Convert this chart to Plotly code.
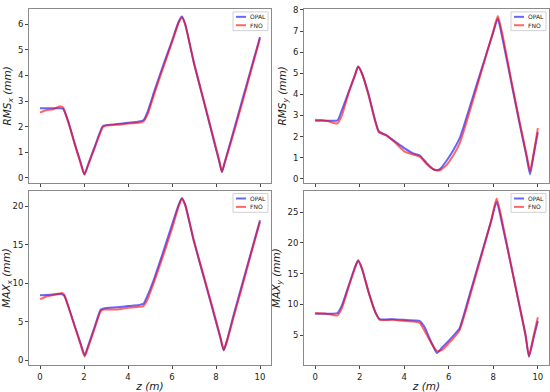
import plotly.graph_objects as go

# ---------------- data ----------------
z_rms_x = [0, 0.3, 0.6, 0.9, 1.05, 1.3, 1.6, 1.85, 2.02, 2.2, 2.5, 2.85, 3.0, 3.5, 4.0, 4.5, 4.7, 4.9, 5.2, 5.6,
           6.0, 6.3, 6.45, 6.6, 7.0, 7.5, 8.0, 8.15, 8.27, 8.4, 8.7, 9.2, 9.6, 10.0]
rms_x_opal = [2.72, 2.72, 2.72, 2.72, 2.7, 2.15, 1.28, 0.6, 0.13, 0.55, 1.25, 2.02, 2.06, 2.1, 2.15, 2.2, 2.25, 2.6, 3.4, 4.4,
              5.35, 6.1, 6.3, 6.0, 4.46, 2.8, 1.12, 0.62, 0.22, 0.62, 1.53, 3.06, 4.28, 5.5]
rms_x_fno = [2.55, 2.65, 2.68, 2.8, 2.75, 2.15, 1.25, 0.55, 0.13, 0.52, 1.2, 1.97, 2.04, 2.07, 2.12, 2.15, 2.2, 2.5, 3.3, 4.3,
             5.3, 6.05, 6.28, 6.0, 4.5, 2.85, 1.18, 0.68, 0.25, 0.6, 1.45, 2.95, 4.2, 5.45]

z_rms_y = [0, 0.3, 0.6, 1.0, 1.2, 1.5, 1.8, 1.93, 2.1, 2.4, 2.7, 2.86, 3.2, 3.6, 4.0, 4.4, 4.7, 5.0, 5.3, 5.45,
           5.6, 5.9, 6.2, 6.5, 7.0, 7.5, 8.0, 8.2, 8.4, 8.8, 9.2, 9.5, 9.65, 9.8, 10.0]
rms_y_opal = [2.75, 2.75, 2.75, 2.76, 3.25, 4.1, 4.95, 5.32, 5.0, 4.0, 2.75, 2.25, 2.05, 1.75, 1.45, 1.2, 1.1, 0.75, 0.45, 0.4,
              0.45, 0.85, 1.35, 1.95, 3.6, 5.3, 6.95, 7.6, 6.7, 4.6, 2.5, 1.0, 0.2, 1.05, 2.2]
rms_y_fno = [2.8, 2.78, 2.72, 2.62, 3.0, 4.05, 4.95, 5.32, 5.0, 3.95, 2.7, 2.2, 2.05, 1.7, 1.3, 1.15, 1.05, 0.7, 0.45, 0.4,
             0.4, 0.65, 1.1, 1.7, 3.4, 5.2, 7.0, 7.72, 6.9, 4.7, 2.6, 1.1, 0.35, 1.15, 2.4]

z_max_x = [0, 0.3, 0.6, 1.0, 1.1, 1.3, 1.6, 1.85, 2.03, 2.2, 2.5, 2.76, 2.9, 3.5, 4.0, 4.5, 4.7, 4.9, 5.2, 5.6,
           6.0, 6.3, 6.45, 6.6, 7.0, 7.5, 8.0, 8.2, 8.35, 8.5, 8.8, 9.2, 9.6, 10.0]
max_x_opal = [8.45, 8.5, 8.55, 8.6, 8.4, 6.9, 4.3, 2.2, 0.65, 2.0, 4.5, 6.6, 6.75, 6.9, 7.05, 7.2, 7.35, 8.5, 10.7, 14.1,
              17.6, 20.2, 21.1, 20.2, 15.4, 10.2, 5.0, 2.9, 1.3, 2.6, 5.9, 10.0, 14.1, 18.2]
max_x_fno = [7.95, 8.3, 8.5, 8.75, 8.55, 6.9, 4.2, 2.0, 0.5, 1.8, 4.3, 6.4, 6.6, 6.6, 6.85, 6.95, 7.05, 8.0, 10.3, 13.6,
             17.1, 20.0, 21.0, 20.2, 15.5, 10.4, 5.2, 3.0, 1.35, 2.5, 5.6, 9.7, 13.9, 18.0]

z_max_y = [0, 0.5, 1.0, 1.2, 1.5, 1.8, 1.93, 2.1, 2.4, 2.7, 2.9, 3.5, 4.0, 4.5, 4.7, 4.9, 5.2, 5.47, 5.7, 6.0,
           6.3, 6.47, 6.7, 7.0, 7.5, 7.9, 8.15, 8.4, 8.8, 9.2, 9.45, 9.6, 9.8, 10.0]
max_y_opal = [8.5, 8.5, 8.6, 9.8, 13.0, 16.2, 17.1, 15.8, 12.0, 8.8, 7.6, 7.6, 7.5, 7.4, 7.3, 6.4, 4.0, 2.1, 3.0, 4.1,
              5.3, 6.0, 8.6, 12.4, 18.6, 23.5, 26.7, 23.0, 16.3, 9.3, 4.9, 1.5, 4.4, 7.3]
max_y_fno = [8.6, 8.5, 8.2, 9.4, 12.8, 16.0, 17.2, 15.9, 12.0, 8.7, 7.5, 7.5, 7.3, 7.2, 7.0, 5.8, 3.8, 2.4, 2.6, 3.7,
             4.9, 5.7, 8.2, 12.0, 18.3, 23.6, 27.2, 23.5, 16.3, 9.4, 5.0, 1.6, 4.8, 7.9]

series_names = ["OPAL", "FNO"]
x_ticks = [0, 2, 4, 6, 8, 10]
x_title = "<i>z (m)</i>"
y_titles = ["<i>RMS<sub>x</sub> (mm)</i>", "<i>RMS<sub>y</sub> (mm)</i>",
            "<i>MAX<sub>x</sub> (mm)</i>", "<i>MAX<sub>y</sub> (mm)</i>"]
y_ticks = [[0, 1, 2, 3, 4, 5, 6], [0, 1, 2, 3, 4, 5, 6, 7, 8], [0, 5, 10, 15, 20], [5, 10, 15, 20, 25]]
y_ranges = [[-0.19, 6.6], [-0.19, 8.05], [-0.64, 22.05], [0.1, 28.5]]

# ---------------- figure ----------------
W, H = 550, 392
panels = [
    (z_rms_x, rms_x_opal, rms_x_fno),
    (z_rms_y, rms_y_opal, rms_y_fno),
    (z_max_x, max_x_opal, max_x_fno),
    (z_max_y, max_y_opal, max_y_fno),
]
# axes pixel boxes (left, right, top, bottom)
boxes = [(29, 271, 5, 181), (304, 549, 5, 181), (29, 271, 189, 366), (304, 549, 189, 366)]

COLORS = ["rgba(0,0,255,0.6)", "rgba(255,0,0,0.6)"]
FRAME = "#8a8a8a"
TXT = "#222222"

fig = go.Figure()
layout = dict(width=W, height=H, margin=dict(l=0, r=0, t=0, b=0),
              paper_bgcolor="white", plot_bgcolor="white", showlegend=False,
              font=dict(family="DejaVu Sans", size=8, color=TXT))
shapes, annotations = [], []

for i, ((z, op, fn), (l, r, t, b)) in enumerate(zip(panels, boxes)):
    n = "" if i == 0 else str(i + 1)
    for name, vals, col in zip(series_names, (op, fn), COLORS):
        fig.add_trace(go.Scatter(x=z, y=vals, mode="lines", name=name,
                                 line=dict(color=col, width=2, shape="spline", smoothing=0.5),
                                 xaxis="x" + n, yaxis="y" + n))
    bottom_row = i >= 2
    layout["xaxis" + n] = dict(domain=[l / W, r / W], anchor="y" + n, range=[-0.5, 10.5], tickvals=x_ticks,
                               showticklabels=bottom_row, ticks="outside", ticklen=3, tickcolor="#444",
                               showline=True, mirror=True, linecolor=FRAME, linewidth=1,
                               showgrid=False, zeroline=False, tickfont=dict(size=8.5),
                               title=dict(text=x_title, font=dict(size=10.5), standoff=2) if bottom_row else None)
    layout["yaxis" + n] = dict(domain=[1 - b / H, 1 - t / H], anchor="x" + n, range=y_ranges[i], tickvals=y_ticks[i],
                               ticks="outside", ticklen=3, tickcolor="#444",
                               showline=True, mirror=True, linecolor=FRAME, linewidth=1,
                               showgrid=False, zeroline=False, tickfont=dict(size=8.5),
                               title=dict(text=y_titles[i], font=dict(size=10.5), standoff=4))
    # matplotlib-style small legend in the upper-right corner of each axes
    pw, ph = r - l, b - t
    xr, yr = "x" + n + " domain", "y" + n + " domain"
    bx0, bx1 = 1 - 38 / pw, 1 - 3 / pw
    by1, by0 = 1 - 3 / ph, 1 - 22 / ph
    shapes.append(dict(type="rect", xref=xr, yref=yr, x0=bx0, x1=bx1, y0=by0, y1=by1,
                       line=dict(color="#d0d0d0", width=1), fillcolor="rgba(255,255,255,0.85)", layer="above"))
    for k, (name, col) in enumerate(zip(series_names, COLORS)):
        yy = 1 - (8 + 8.5 * k) / ph
        shapes.append(dict(type="line", xref=xr, yref=yr, x0=1 - 35 / pw, x1=1 - 25 / pw, y0=yy, y1=yy,
                           line=dict(color=col, width=2), layer="above"))
        annotations.append(dict(xref=xr, yref=yr, x=1 - 23 / pw, y=yy, text=name, showarrow=False,
                                xanchor="left", yanchor="middle", font=dict(size=6, color=TXT)))

layout["shapes"] = shapes
layout["annotations"] = annotations
fig.update_layout(**layout)
fig.write_html("out.html", config={"displayModeBar": False},
               post_script="document.body.style.margin='0px';")
